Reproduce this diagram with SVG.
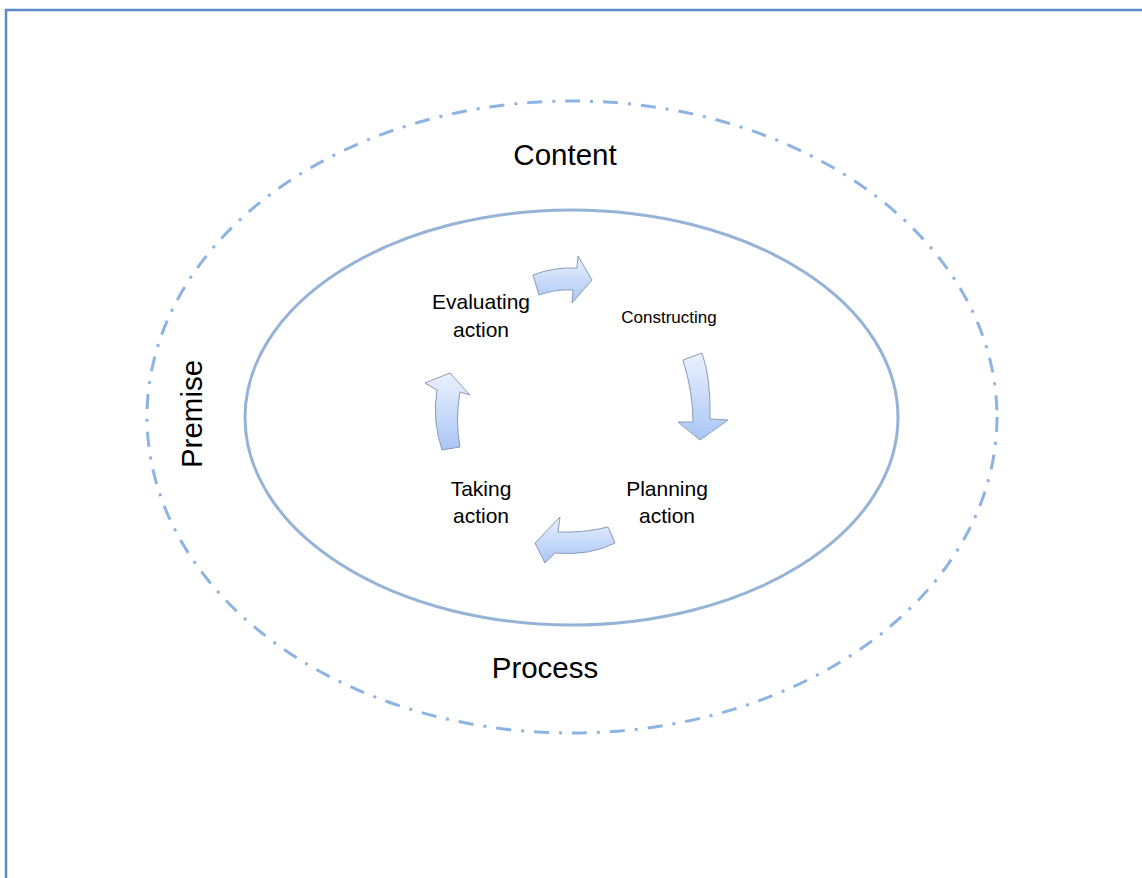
<svg xmlns="http://www.w3.org/2000/svg" width="1142" height="878" viewBox="0 0 1142 878">
<style>
.frame{stroke:#5b8bc9;stroke-width:2.5;fill:none}
.outer{fill:none;stroke:#8db3e2;stroke-width:3;stroke-dasharray:15 10 3 10}
.inner{fill:none;stroke:#95b3d7;stroke-width:3}
.arrow{fill:url(#ag);stroke:#8a9bb8;stroke-width:1;stroke-linejoin:round}
.big{font-family:"Liberation Sans",Arial,sans-serif;font-size:29.5px;fill:#000;text-anchor:middle}
.lbl{font-family:"Liberation Sans",Arial,sans-serif;font-size:21px;fill:#000;text-anchor:middle}
.sm{font-family:"Liberation Sans",Arial,sans-serif;font-size:17px;fill:#000;text-anchor:middle}
</style>
<defs>
<linearGradient id="ag" x1="0" y1="0" x2="0" y2="1">
<stop offset="0" stop-color="#eaf1fd"/>
<stop offset="1" stop-color="#aac6f5"/>
</linearGradient>
</defs>
<rect width="1142" height="878" fill="#fff"/>
<g id="frame">
<path class="frame" d="M6,878 V10 H1142"/>
</g>
<g id="premise-content-process">
<ellipse class="outer" cx="572" cy="417" rx="425" ry="316"/>
<text class="big" x="565" y="165">Content</text>
<text class="big" x="545" y="678">Process</text>
<text class="big" transform="translate(202,414) rotate(-90)">Premise</text>
</g>
<g id="inner-ellipse">
<ellipse class="inner" cx="571.5" cy="417.5" rx="326.5" ry="207.5"/>
</g>
<g id="node-evaluating">
<text class="lbl" x="481" y="309">Evaluating</text>
<text class="lbl" x="481" y="337">action</text>
</g>
<g id="node-constructing">
<text class="sm" x="669" y="323">Constructing</text>
</g>
<g id="node-planning">
<text class="lbl" x="667" y="496">Planning</text>
<text class="lbl" x="667" y="523">action</text>
</g>
<g id="node-taking">
<text class="lbl" x="481" y="496">Taking</text>
<text class="lbl" x="481" y="523">action</text>
</g>
<g id="connectors">
<path class="arrow" d="M533,275 Q553,267 577,268 L578,256 L592,280 L572,303 L573,290 Q555,289 539,295 Z"/>
<path class="arrow" d="M683,360 Q693,392 693,422 L678,422 L700,440 L728,420 L710,419 Q711,378 702,353 Z"/>
<path class="arrow" d="M608,527 Q584,533 558,532 L560,517 L535,543 L545,563 L555,553 Q590,556 615,543 Z"/>
<path class="arrow" d="M442,450 Q432,420 437,390 L425,383 L450,373 L470,395 L460,392 Q455,420 460,447 Z"/>
</g>
</svg>
